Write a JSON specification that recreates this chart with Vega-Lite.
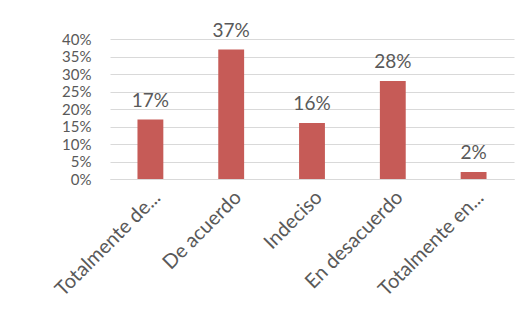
{
  "$schema": "https://vega.github.io/schema/vega-lite/v6.json",
  "width": 404,
  "height": 140,
  "autosize": {"type": "none"},
  "padding": {"left": 110, "top": 39, "right": 10, "bottom": 143},
  "background": "white",
  "config": {
    "view": {"stroke": null},
    "font": "Lato",
    "axis": {"labelFont": "Lato", "labelColor": "#595959", "labelFontSize": 18}
  },
  "data": {
    "values": [
      {"categoria": "Totalmente de...", "valor": 0.17},
      {"categoria": "De acuerdo", "valor": 0.37},
      {"categoria": "Indeciso", "valor": 0.16},
      {"categoria": "En desacuerdo", "valor": 0.28},
      {"categoria": "Totalmente en...", "valor": 0.02}
    ]
  },
  "encoding": {
    "x": {
      "field": "categoria",
      "type": "nominal",
      "sort": null,
      "scale": {"paddingInner": 0.68, "paddingOuter": 0.34},
      "axis": {
        "title": null,
        "labelAngle": -45,
        "labelAlign": "right",
        "labelBaseline": "top",
        "labelPadding": 8,
        "labelFontSize": 20,
        "ticks": false,
        "domainColor": "#D9D9D9",
        "domainWidth": 1,
        "labelLimit": 300,
        "labelOverlap": false
      }
    },
    "y": {
      "field": "valor",
      "type": "quantitative",
      "scale": {"domain": [0, 0.4], "nice": false},
      "axis": {
        "title": null,
        "format": ".0%",
        "values": [0, 0.05, 0.1, 0.15, 0.2, 0.25, 0.3, 0.35, 0.4],
        "ticks": false,
        "domain": false,
        "gridColor": "#D9D9D9",
        "gridWidth": 1,
        "labelPadding": 19,
        "labelOverlap": false,
        "labelFontSize": 15
      }
    }
  },
  "layer": [
    {"mark": {"type": "bar", "color": "#C65B57"}},
    {
      "mark": {"type": "text", "baseline": "alphabetic", "dy": -13, "fontSize": 19, "color": "#595959", "font": "Lato"},
      "encoding": {"text": {"field": "valor", "type": "quantitative", "format": ".0%"}}
    }
  ]
}
